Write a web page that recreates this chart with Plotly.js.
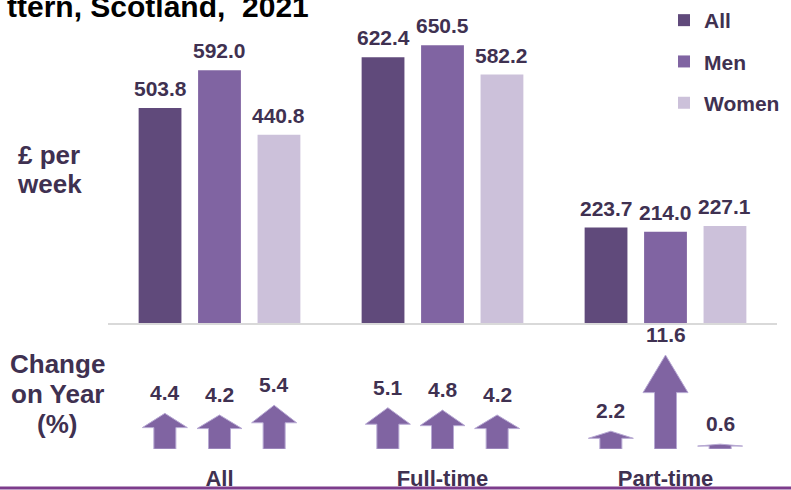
<!DOCTYPE html>
<html>
<head>
<meta charset="utf-8">
<script src="https://cdn.plot.ly/plotly-3.0.1.min.js"></script>
<style>html,body{margin:0;padding:0;background:#fff;}#chart{width:791px;height:490px;}</style>
</head>
<body>
<div id="chart"></div>
<script>
// ---- data ----
const categories = ['All', 'Full-time', 'Part-time'];
const seriesNames = ['All', 'Men', 'Women'];
const weeklyAll = [503.8, 622.4, 223.7];
const weeklyMen = [592.0, 650.5, 214.0];
const weeklyWomen = [440.8, 582.2, 227.1];
const changeAll = [4.4, 5.1, 2.2];
const changeMen = [4.2, 4.8, 11.6];
const changeWomen = [5.4, 4.2, 0.6];
const titleText = 'ttern, Scotland,\u00a0 2021';
const yLabelTopLines = ['£ per', 'week'];
const yLabelBottomLines = ['Change', 'on Year', '(%)'];

// ---- styles / layout constants ----
const W = 791, H = 490;
const ML = 108, MR = 14;
const plotW = W - ML - MR;
const unitPx = plotW / 3;
const colors = ['#604A7B', '#8064A2', '#CCC1DA'];
const textColor = '#3F3151';
const FONT = 'Liberation Sans, Arial, sans-serif';
const bargap = 0.2, bargroupgap = 0.28;
const slot = (1 - bargap) / 3;
const arrowSpacing = 0.245;
const shaftHalf = 11 / unitPx, headHalf = 22.5 / unitPx, headFrac = 0.4;
const px2y = p => (H - p) / H;
const px2x = p => (p - ML) / plotW;

const weekly = [weeklyAll, weeklyMen, weeklyWomen];
const change = [changeAll, changeMen, changeWomen];
const idx = categories.map((c, i) => i);

const traces = [];
const annotations = [];

weekly.forEach((vals, k) => {
  traces.push({
    type: 'bar', x: idx, y: vals, name: seriesNames[k],
    legendgroup: 'g' + k,
    marker: {color: colors[k], line: {width: 0}},
    xaxis: 'x', yaxis: 'y', hoverinfo: 'skip'
  });
  vals.forEach((v, i) => {
    annotations.push({
      xref: 'x', yref: 'y', x: i + (k - 1) * slot, y: v,
      text: v.toFixed(1), showarrow: false, yanchor: 'bottom', yshift: 6,
      font: {family: FONT, size: 21, color: textColor, weight: 'bold'}
    });
  });
});

change.forEach((vals, k) => {
  vals.forEach((v, i) => {
    const c = i + (k - 1) * arrowSpacing;
    const h = v * headFrac;
    const xs = [c - shaftHalf, c - shaftHalf, c - headHalf, c, c + headHalf, c + shaftHalf, c + shaftHalf, c - shaftHalf];
    const ys = [0, v - h, v - h, v, v - h, v - h, 0, 0];
    traces.push({
      type: 'scatter', mode: 'lines', x: xs, y: ys, fill: 'toself',
      fillcolor: '#8064A2', line: {color: '#B7A9D3', width: 1},
      xaxis: 'x2', yaxis: 'y2', showlegend: false, hoverinfo: 'skip'
    });
    annotations.push({
      xref: 'x2', yref: 'y2', x: c, y: v,
      text: v.toFixed(1), showarrow: false, yanchor: 'bottom', yshift: 7,
      font: {family: FONT, size: 21, color: textColor, weight: 'bold'}
    });
  });
});

annotations.push({
  xref: 'paper', yref: 'paper', x: px2x(311), y: px2y(6), xanchor: 'right', yanchor: 'middle',
  text: titleText, showarrow: false,
  font: {family: FONT, size: 30, color: '#000000', weight: 'bold'}
});
const topCenters = [155, 184];
yLabelTopLines.forEach((t, j) => annotations.push({
  xref: 'paper', yref: 'paper', x: px2x(49), y: px2y(topCenters[j]), xanchor: 'center', yanchor: 'middle',
  text: t, showarrow: false,
  font: {family: FONT, size: 26, color: textColor, weight: 'bold'}
}));
const bottomCenters = [364, 394, 424];
yLabelBottomLines.forEach((t, j) => annotations.push({
  xref: 'paper', yref: 'paper', x: px2x(57), y: px2y(bottomCenters[j]), xanchor: 'center', yanchor: 'middle',
  text: t, showarrow: false,
  font: {family: FONT, size: 26, color: textColor, weight: 'bold'}
}));

const mainZero = 323, mainScale = 0.4268, mainTop = 700;
const lowZero = 449, lowScale = 8.1, lowTop = 13;

const layout = {
  width: W, height: H,
  margin: {l: ML, r: MR, t: 0, b: 0, pad: 0},
  paper_bgcolor: '#ffffff', plot_bgcolor: 'rgba(0,0,0,0)',
  font: {family: FONT, color: textColor},
  barmode: 'group', bargap: bargap, bargroupgap: bargroupgap,
  showlegend: true,
  legend: {
    x: px2x(664), xanchor: 'left', y: px2y(0), yanchor: 'top',
    font: {family: FONT, size: 21, color: textColor, weight: 'bold'},
    tracegroupgap: 11, bgcolor: 'rgba(0,0,0,0)', traceorder: 'grouped'
  },
  xaxis: {
    range: [-0.5, 2.5], anchor: 'y', showline: true, linecolor: '#D9D9D9', linewidth: 2,
    showticklabels: false, showgrid: false, zeroline: false, ticks: '', fixedrange: true
  },
  yaxis: {
    domain: [px2y(mainZero), px2y(mainZero - mainTop * mainScale)],
    range: [0, mainTop], visible: false, fixedrange: true
  },
  xaxis2: {
    matches: 'x', anchor: 'y2', showline: false, showgrid: false, zeroline: false,
    tickmode: 'array', tickvals: idx, ticktext: categories,
    ticks: 'outside', ticklen: 10, tickcolor: 'rgba(0,0,0,0)',
    tickfont: {family: FONT, size: 22, color: textColor, weight: 'bold'}, fixedrange: true
  },
  yaxis2: {
    domain: [px2y(lowZero), px2y(lowZero - lowTop * lowScale)],
    range: [0, lowTop], visible: false, fixedrange: true
  },
  shapes: [{
    type: 'line', xref: 'paper', yref: 'paper',
    x0: px2x(0), x1: px2x(W), y0: px2y(488), y1: px2y(488),
    line: {color: '#7D3C8C', width: 3}, layer: 'above'
  }],
  annotations: annotations
};

Plotly.newPlot('chart', traces, layout, {displayModeBar: false, staticPlot: true});
</script>
</body>
</html>
